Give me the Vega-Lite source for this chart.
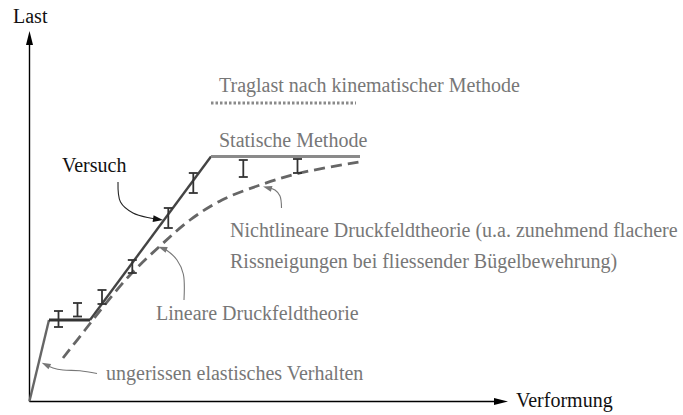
{
  "$schema": "https://vega.github.io/schema/vega-lite/v6.json",
  "width": 683,
  "height": 415,
  "padding": 0,
  "autosize": {"type": "none"},
  "background": "#ffffff",
  "config": {"view": {"stroke": null}},
  "datasets": {
    "lines": [
      {"s": "axis_y", "o": 0, "x": 29.5, "y": 401.5},
      {"s": "axis_y", "o": 1, "x": 29.5, "y": 44},
      {"s": "axis_x", "o": 0, "x": 29.5, "y": 401.5},
      {"s": "axis_x", "o": 1, "x": 495, "y": 401.5},
      {"s": "elastic", "o": 0, "x": 29.5, "y": 401},
      {"s": "elastic", "o": 1, "x": 49, "y": 320},
      {"s": "plateau", "o": 0, "x": 49, "y": 320},
      {"s": "plateau", "o": 1, "x": 90, "y": 320},
      {"s": "versuch", "o": 0, "x": 90, "y": 320},
      {"s": "versuch", "o": 1, "x": 211, "y": 156.5},
      {"s": "statisch", "o": 0, "x": 211, "y": 156.5},
      {"s": "statisch", "o": 1, "x": 360, "y": 156.5},
      {"s": "kinematisch", "o": 0, "x": 211, "y": 103},
      {"s": "kinematisch", "o": 1, "x": 356, "y": 103},
      {"s": "nichtlinear", "o": 0, "x": 63, "y": 358},
      {"s": "nichtlinear", "o": 1, "x": 85, "y": 330},
      {"s": "nichtlinear", "o": 2, "x": 103, "y": 307},
      {"s": "nichtlinear", "o": 3, "x": 130, "y": 275},
      {"s": "nichtlinear", "o": 4, "x": 160, "y": 246},
      {"s": "nichtlinear", "o": 5, "x": 190, "y": 220},
      {"s": "nichtlinear", "o": 6, "x": 222, "y": 200},
      {"s": "nichtlinear", "o": 7, "x": 263, "y": 184},
      {"s": "nichtlinear", "o": 8, "x": 300, "y": 173},
      {"s": "nichtlinear", "o": 9, "x": 359, "y": 162},
      {"s": "arr_versuch", "o": 0, "x": 118, "y": 182},
      {"s": "arr_versuch", "o": 1, "x": 120.5, "y": 202},
      {"s": "arr_versuch", "o": 2, "x": 133, "y": 213},
      {"s": "arr_versuch", "o": 3, "x": 150, "y": 218},
      {"s": "arr_versuch", "o": 4, "x": 156, "y": 219},
      {"s": "arr_nl", "o": 0, "x": 281.5, "y": 208},
      {"s": "arr_nl", "o": 1, "x": 280, "y": 196},
      {"s": "arr_nl", "o": 2, "x": 275, "y": 190},
      {"s": "arr_nl", "o": 3, "x": 268, "y": 187.5},
      {"s": "arr_lin", "o": 0, "x": 184, "y": 300},
      {"s": "arr_lin", "o": 1, "x": 183.3, "y": 274},
      {"s": "arr_lin", "o": 2, "x": 177, "y": 260},
      {"s": "arr_lin", "o": 3, "x": 167, "y": 250.5},
      {"s": "arr_lin", "o": 4, "x": 163, "y": 248.5},
      {"s": "arr_ung", "o": 0, "x": 97, "y": 373.5},
      {"s": "arr_ung", "o": 1, "x": 80, "y": 370.7},
      {"s": "arr_ung", "o": 2, "x": 63, "y": 370},
      {"s": "arr_ung", "o": 3, "x": 53, "y": 368},
      {"s": "arr_ung", "o": 4, "x": 46, "y": 365}
    ],
    "heads": [
      {"k": "axis", "x": 29.5, "y": 31, "angle": 0},
      {"k": "axis", "x": 508, "y": 401.5, "angle": 90},
      {"k": "dark", "x": 163, "y": 220, "angle": 98},
      {"k": "gray", "x": 263, "y": 186.5, "angle": 286},
      {"k": "gray", "x": 158.3, "y": 246.7, "angle": 291},
      {"k": "gray", "x": 41.7, "y": 362.7, "angle": 296}
    ],
    "err": [
      {"x": 58.5, "y": 311, "y2": 327},
      {"x": 77.5, "y": 303, "y2": 316.5},
      {"x": 102, "y": 290, "y2": 304},
      {"x": 132.3, "y": 260, "y2": 273},
      {"x": 168.3, "y": 208, "y2": 228},
      {"x": 193.3, "y": 173, "y2": 193},
      {"x": 243.3, "y": 160, "y2": 177},
      {"x": 297.5, "y": 159, "y2": 173}
    ],
    "txt": [
      {"t": "Last", "k": "dark", "x": 13, "y": 23},
      {"t": "Verformung", "k": "dark", "x": 516, "y": 407},
      {"t": "Versuch", "k": "dark", "x": 62, "y": 172},
      {"t": "Traglast nach kinematischer Methode", "k": "gray", "x": 219, "y": 92},
      {"t": "Statische Methode", "k": "gray", "x": 219, "y": 147},
      {"t": "Nichtlineare Druckfeldtheorie (u.a. zunehmend flachere", "k": "gray", "x": 230, "y": 237},
      {"t": "Rissneigungen bei fliessender Bügelbewehrung)", "k": "gray", "x": 230, "y": 268},
      {"t": "Lineare Druckfeldtheorie", "k": "gray", "x": 156, "y": 320},
      {"t": "ungerissen elastisches Verhalten", "k": "gray", "x": 106, "y": 380}
    ]
  },
  "encoding": {
    "x": {"field": "x", "type": "quantitative", "scale": {"domain": [0, 683], "nice": false, "zero": false}, "axis": null},
    "y": {"field": "y", "type": "quantitative", "scale": {"domain": [0, 415], "nice": false, "zero": false, "reverse": true}, "axis": null}
  },
  "layer": [
    {
      "data": {"name": "lines"},
      "transform": [{"filter": "datum.s === 'axis_y' || datum.s === 'axis_x'"}],
      "mark": {"type": "line", "color": "#000000", "strokeWidth": 1.4},
      "encoding": {"detail": {"field": "s"}, "order": {"field": "o", "type": "quantitative"}}
    },
    {
      "data": {"name": "lines"},
      "transform": [{"filter": "datum.s === 'elastic'"}],
      "mark": {"type": "line", "color": "#666666", "strokeWidth": 2.4},
      "encoding": {"order": {"field": "o", "type": "quantitative"}}
    },
    {
      "data": {"name": "lines"},
      "transform": [{"filter": "datum.s === 'plateau'"}],
      "mark": {"type": "line", "color": "#333333", "strokeWidth": 3},
      "encoding": {"order": {"field": "o", "type": "quantitative"}}
    },
    {
      "data": {"name": "lines"},
      "transform": [{"filter": "datum.s === 'versuch'"}],
      "mark": {"type": "line", "color": "#444444", "strokeWidth": 2.4},
      "encoding": {"order": {"field": "o", "type": "quantitative"}}
    },
    {
      "data": {"name": "lines"},
      "transform": [{"filter": "datum.s === 'statisch'"}],
      "mark": {"type": "line", "color": "#8a8a8a", "strokeWidth": 2.8},
      "encoding": {"order": {"field": "o", "type": "quantitative"}}
    },
    {
      "data": {"name": "lines"},
      "transform": [{"filter": "datum.s === 'kinematisch'"}],
      "mark": {"type": "line", "color": "#8a8a8a", "strokeWidth": 3, "strokeDash": [2.5, 2]},
      "encoding": {"order": {"field": "o", "type": "quantitative"}}
    },
    {
      "data": {"name": "lines"},
      "transform": [{"filter": "datum.s === 'nichtlinear'"}],
      "mark": {"type": "line", "color": "#666666", "strokeWidth": 2.8, "strokeDash": [11, 6], "interpolate": "catmull-rom"},
      "encoding": {"order": {"field": "o", "type": "quantitative"}}
    },
    {
      "data": {"name": "lines"},
      "transform": [{"filter": "datum.s === 'arr_versuch'"}],
      "mark": {"type": "line", "color": "#222222", "strokeWidth": 1.1, "interpolate": "catmull-rom"},
      "encoding": {"order": {"field": "o", "type": "quantitative"}}
    },
    {
      "data": {"name": "lines"},
      "transform": [{"filter": "datum.s === 'arr_nl' || datum.s === 'arr_lin' || datum.s === 'arr_ung'"}],
      "mark": {"type": "line", "color": "#777777", "strokeWidth": 1.1, "interpolate": "catmull-rom"},
      "encoding": {"detail": {"field": "s"}, "order": {"field": "o", "type": "quantitative"}}
    },
    {
      "data": {"name": "err"},
      "mark": {"type": "rule", "color": "#333333", "strokeWidth": 1.8},
      "encoding": {"y2": {"field": "y2"}}
    },
    {
      "data": {"name": "err"},
      "mark": {"type": "tick", "orient": "horizontal", "size": 9, "thickness": 1.8, "color": "#333333", "opacity": 1}
    },
    {
      "data": {"name": "err"},
      "mark": {"type": "tick", "orient": "horizontal", "size": 9, "thickness": 1.8, "color": "#333333", "opacity": 1},
      "encoding": {"y": {"field": "y2", "type": "quantitative"}}
    },
    {
      "data": {"name": "heads"},
      "mark": {"type": "point", "filled": true, "opacity": 1, "size": 4, "strokeWidth": 0},
      "encoding": {
        "angle": {"field": "angle", "type": "quantitative", "scale": null},
        "shape": {"field": "k", "type": "nominal", "legend": null,
          "scale": {"domain": ["axis", "dark", "gray"], "range": ["M0,0L3.5,14L-3.5,14Z", "M0,0L3.5,10L-3.5,10Z", "M0,0L3,9L-3,9Z"]}},
        "color": {"field": "k", "type": "nominal", "legend": null,
          "scale": {"domain": ["axis", "dark", "gray"], "range": ["#000000", "#111111", "#777777"]}}
      }
    },
    {
      "data": {"name": "txt"},
      "mark": {"type": "text", "align": "left", "baseline": "alphabetic", "font": "Liberation Serif, Times New Roman, DejaVu Serif, serif", "fontSize": 20},
      "encoding": {
        "text": {"field": "t"},
        "color": {"field": "k", "type": "nominal", "legend": null,
          "scale": {"domain": ["dark", "gray"], "range": ["#111111", "#7a7a7a"]}}
      }
    }
  ]
}
